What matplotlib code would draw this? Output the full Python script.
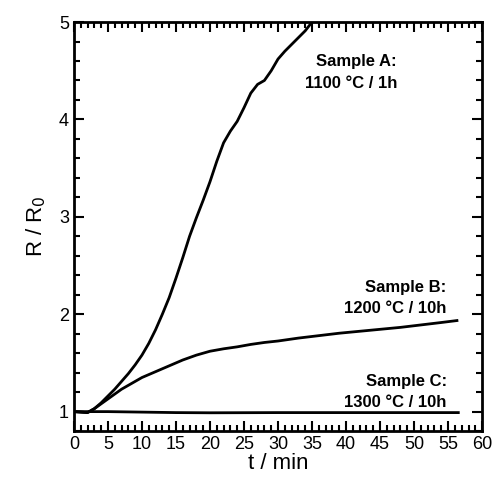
import numpy as np
import matplotlib
matplotlib.use("Agg")
import matplotlib.pyplot as plt
from matplotlib.ticker import MultipleLocator

plt.rcParams['font.family'] = ['Liberation Sans', 'DejaVu Sans']

# Sample A : 1100 C / 1h
t_a = [0, 1, 2, 3, 4, 5, 6, 7, 8, 9, 10, 11, 12, 13, 14, 15, 16, 17, 18, 19, 20,
       21, 22, 23, 24, 25, 26, 27, 28, 29, 30, 31, 32, 33, 34, 35]
r_a = [1.0, 0.995, 0.99, 1.03, 1.09, 1.16, 1.23, 1.31, 1.39, 1.48, 1.58, 1.70, 1.84,
       2.0, 2.17, 2.37, 2.58, 2.80, 2.99, 3.17, 3.36, 3.57, 3.76, 3.88, 3.98, 4.12,
       4.27, 4.36, 4.40, 4.50, 4.62, 4.70, 4.77, 4.84, 4.91, 5.0]

# Sample B : 1200 C / 10h
t_b = [0, 1, 2, 3, 4, 5, 6, 7, 8, 9, 10, 12, 14, 16, 18, 20, 22, 24, 26, 28, 30,
       33, 36, 39, 42, 45, 48, 51, 54, 56.3]
r_b = [1.0, 0.995, 0.99, 1.03, 1.08, 1.13, 1.18, 1.23, 1.27, 1.31, 1.35, 1.41, 1.47,
       1.53, 1.58, 1.62, 1.645, 1.665, 1.69, 1.71, 1.725, 1.755, 1.78, 1.805, 1.825,
       1.845, 1.865, 1.89, 1.915, 1.935]

# Sample C : 1300 C / 10h
t_c = [0, 5, 10, 15, 20, 30, 40, 50, 56.5]
r_c = [1.0, 1.0, 0.995, 0.99, 0.988, 0.99, 0.99, 0.99, 0.99]

fig = plt.figure(figsize=(4.96, 4.79), dpi=100)
ax = fig.add_axes([0.149, 0.100, 0.823, 0.854])

for t, r in [(t_a, r_a), (t_b, r_b), (t_c, r_c)]:
    ax.plot(t, r, color='black', lw=2.0, solid_joinstyle='round')

ax.set_xlim(0, 60)
ax.set_ylim(0.8, 5)
ax.xaxis.set_major_locator(MultipleLocator(5))
ax.xaxis.set_minor_locator(MultipleLocator(1))
ax.yaxis.set_minor_locator(MultipleLocator(0.2))
ax.set_yticks([1, 2, 3, 4, 5])
ax.tick_params(which='both', direction='in', top=True, right=True, labelsize=13, width=1.5)
ax.tick_params(which='major', length=7)
ax.tick_params(which='minor', length=4)
for s in ax.spines.values():
    s.set_linewidth(2)

ax.set_xlabel('t / min', fontsize=16, labelpad=0)
ax.set_ylabel('R / R$_0$', fontsize=16, labelpad=8)

labels = [('Sample A:\n1100 °C / 1h', 47.5, 4.48),
          ('Sample B:\n1200 °C / 10h', 54.8, 2.167),
          ('Sample C:\n1300 °C / 10h', 54.8, 1.20)]
for txt, x, y in labels:
    ax.text(x, y, txt, ha='right', va='center', fontsize=12, fontweight='bold', linespacing=1.54)

fig.savefig('out.png', dpi=100)
